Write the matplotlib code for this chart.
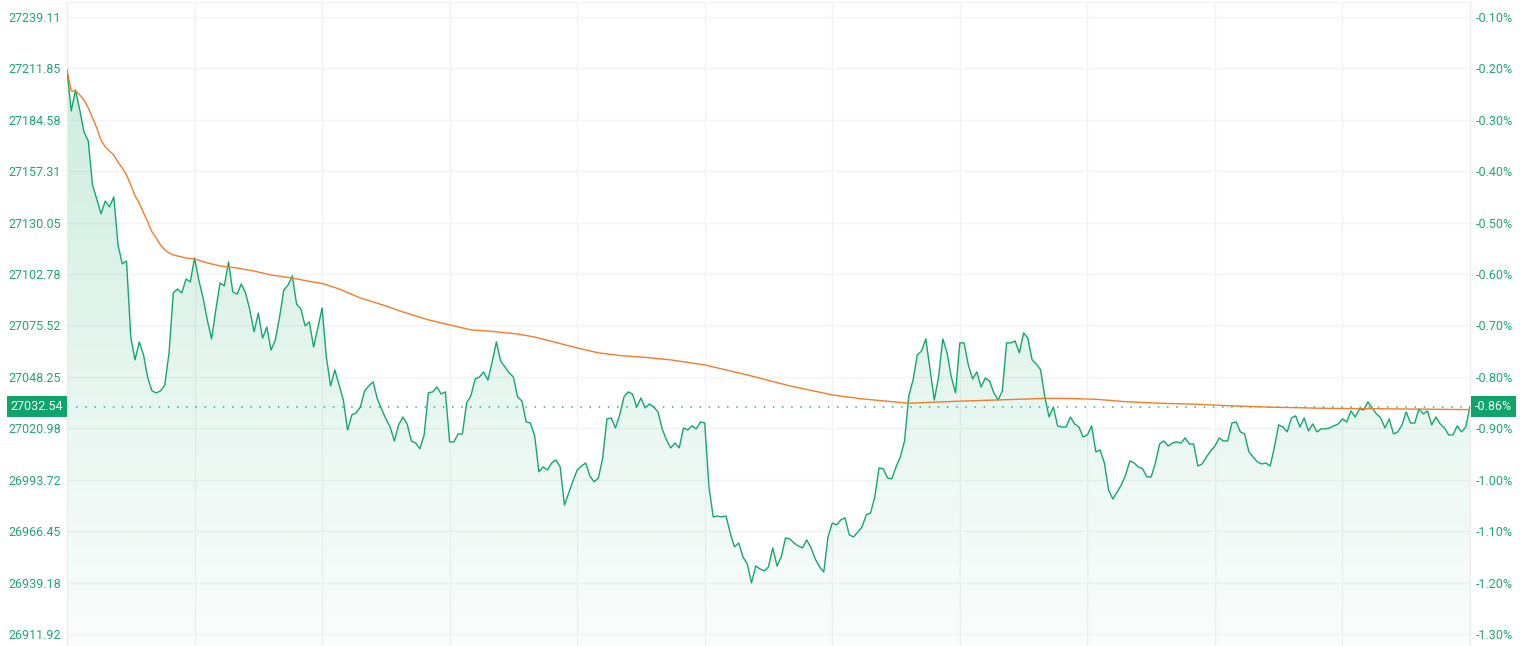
import numpy as np
import matplotlib
matplotlib.use("Agg")
import matplotlib.pyplot as plt
from matplotlib.colors import to_rgb
from matplotlib.patches import Polygon
from matplotlib.transforms import ScaledTranslation

# minute-by-minute index level (09:30 .. 16:00, lunch break collapsed)
price = [
    27211.0, 27189.3, 27200.4, 27189.8, 27178.1, 27173.4, 27150.0, 27142.6, 27134.7, 27141.5,
    27138.4, 27143.7, 27118.2, 27108.2, 27109.7, 27069.4, 27057.3, 27066.8, 27059.9, 27047.7,
    27040.8, 27039.8, 27040.8, 27044.0, 27061.0, 27092.8, 27094.9, 27092.8, 27100.2, 27098.6,
    27111.3, 27099.7, 27090.1, 27078.5, 27068.4, 27083.8, 27098.1, 27096.5, 27109.2, 27093.3,
    27092.2, 27097.5, 27092.8, 27083.8, 27072.2, 27082.1, 27068.8, 27074.7, 27062.5, 27067.8,
    27080.0, 27094.4, 27097.0, 27101.8, 27086.9, 27084.3, 27075.3, 27077.4, 27064.1, 27074.2,
    27084.8, 27058.8, 27043.5, 27052.0, 27044.0, 27036.0, 27020.1, 27028.1, 27029.2, 27032.3,
    27040.8, 27043.5, 27045.6, 27036.6, 27031.3, 27026.0, 27021.7, 27014.3, 27022.8, 27027.0,
    27023.3, 27014.3, 27013.2, 27010.1, 27017.5, 27039.8, 27040.3, 27042.9, 27039.2, 27040.3,
    27013.8, 27013.8, 27018.0, 27018.0, 27034.5, 27038.2, 27047.2, 27048.2, 27050.9, 27046.6,
    27056.2, 27066.8, 27056.7, 27053.5, 27050.4, 27048.2, 27037.6, 27035.5, 27024.4, 27023.8,
    27017.0, 26997.9, 27000.5, 26998.9, 27002.6, 27004.2, 27000.5, 26980.3, 26986.6, 26993.0,
    26998.9, 27001.0, 27002.6, 26995.7, 26992.6, 26994.7, 27005.3, 27026.0, 27026.5, 27021.2,
    27028.1, 27037.6, 27040.3, 27039.2, 27032.3, 27037.1, 27031.8, 27033.9, 27032.3, 27029.7,
    27020.7, 27014.8, 27010.6, 27013.2, 27010.6, 27021.2, 27020.1, 27022.3, 27020.7, 27024.4,
    27023.8, 26989.9, 26974.0, 26974.5, 26974.0, 26974.5, 26965.5, 26958.1, 26960.2, 26952.8,
    26949.1, 26939.0, 26948.0, 26946.4, 26945.4, 26947.5, 26957.6, 26948.0, 26952.8, 26962.9,
    26962.3, 26960.2, 26958.6, 26957.6, 26961.8, 26957.6, 26951.7, 26947.5, 26944.8, 26963.4,
    26970.8, 26969.8, 26972.4, 26973.5, 26964.5, 26963.4, 26966.0, 26968.7, 26975.1, 26976.1,
    26984.6, 27000.0, 26999.5, 26994.7, 26994.2, 27000.5, 27005.8, 27014.3, 27038.2, 27046.6,
    27059.9, 27062.0, 27068.4, 27052.0, 27036.0, 27048.2, 27068.4, 27061.0, 27048.2, 27039.8,
    27066.3, 27066.3, 27054.6, 27047.2, 27050.9, 27042.9, 27047.7, 27046.1, 27039.8, 27036.0,
    27040.8, 27066.3, 27066.3, 27067.3, 27061.0, 27071.6, 27068.8, 27057.3, 27055.1, 27052.0,
    27037.6, 27027.0, 27032.3, 27022.3, 27021.7, 27021.7, 27027.0, 27023.3, 27021.7, 27016.4,
    27017.5, 27022.3, 27008.5, 27009.5, 27002.6, 26988.3, 26983.5, 26987.3, 26991.0, 26996.3,
    27003.7, 27002.6, 27000.5, 26999.5, 26995.2, 26995.2, 27002.6, 27012.7, 27014.3, 27011.6,
    27013.2, 27013.8, 27013.2, 27015.9, 27012.7, 27012.7, 27001.0, 27002.1, 27005.8, 27009.0,
    27011.6, 27015.9, 27014.3, 27014.3, 27023.8, 27024.4, 27019.1, 27018.0, 27008.5, 27005.8,
    27003.2, 27002.1, 27002.6, 27001.0, 27011.1, 27022.8, 27021.7, 27019.1, 27026.5, 27027.6,
    27021.7, 27026.5, 27019.6, 27023.3, 27019.1, 27020.7, 27020.7, 27021.2, 27022.3, 27023.3,
    27026.0, 27024.4, 27030.2, 27027.0, 27031.3, 27030.7, 27035.0, 27031.8, 27028.6, 27026.5,
    27021.2, 27026.0, 27018.0, 27019.1, 27022.8, 27029.7, 27023.8, 27023.8, 27031.3, 27028.6,
    27030.2, 27022.8, 27027.0, 27023.3, 27021.2, 27017.5, 27017.5, 27022.3, 27019.1, 27021.7,
    27032.54,
]

# average price line, read at these minute indices
avg_minute = [0, 1, 2, 3, 4, 5, 6, 7, 8, 9, 10, 11, 12, 13, 14, 15, 16, 17, 18, 19,
              20, 21, 22, 23, 24, 25, 26, 28, 30, 33, 36, 40, 44, 48, 53, 57, 60, 64,
              69, 75, 79, 85, 91, 95, 100, 106, 110, 114, 120, 125, 130, 136, 142, 150,
              160, 170, 180, 187, 198, 210, 224, 230, 236, 242, 249, 257, 265, 273, 283,
              296, 312, 330]
avg_price = [27211.0, 27199.9, 27199.9, 27197.8, 27195.1, 27190.9, 27185.6, 27180.3,
             27173.9, 27170.2, 27168.1, 27165.9, 27162.2, 27159.0, 27155.3, 27150.0,
             27144.2, 27140.5, 27135.2, 27130.4, 27125.1, 27121.9, 27118.2, 27115.6,
             27114.0, 27112.9, 27112.4, 27111.3, 27110.8, 27108.7, 27107.1, 27106.0,
             27104.4, 27102.3, 27100.7, 27098.9, 27097.8, 27094.9, 27090.1, 27085.9,
             27082.7, 27078.5, 27075.3, 27073.2, 27072.4, 27071.0, 27069.4, 27067.1,
             27063.6, 27061.0, 27059.6, 27058.6, 27057.3, 27054.6, 27049.3, 27043.5,
             27038.7, 27036.6, 27034.3, 27035.4, 27036.4, 27036.9, 27036.8, 27036.4,
             27035.1, 27034.3, 27033.8, 27033.0, 27032.2, 27031.6, 27031.3, 27030.9]

last_price = 27032.54
last_label = "27032.54"
last_pct = "-0.86%"

price_ticks = [27239.11, 27211.85, 27184.58, 27157.31, 27130.05, 27102.78, 27075.52,
               27048.25, 27020.98, 26993.72, 26966.45, 26939.18, 26911.92]
price_labels = ["27239.11", "27211.85", "27184.58", "27157.31", "27130.05", "27102.78",
                "27075.52", "27048.25", "27020.98", "26993.72", "26966.45", "26939.18",
                "26911.92"]
pct_labels = ["-0.10%", "-0.20%", "-0.30%", "-0.40%", "-0.50%", "-0.60%", "-0.70%",
              "-0.80%", "-0.90%", "-1.00%", "-1.10%", "-1.20%", "-1.30%"]
time_ticks = [0, 30, 60, 90, 120, 150, 180, 210, 240, 270, 300, 330]

GREEN = "#13a86b"
LABEL = "#22a673"
ORANGE = "#f47c2a"
GRID = "#f2f3f3"

plt.rcParams["font.family"] = ["Roboto", "DejaVu Sans"]

W, H = 1520, 646
fig = plt.figure(figsize=(W / 100, H / 100), dpi=100)
ax = fig.add_axes([67 / W, 0, 1403 / W, 644 / H])

x = np.arange(len(price))
y_lo, y_hi = 26905.56, 27247.06
ax.set_xlim(0, len(price) - 1)
ax.set_ylim(y_lo, y_hi)

# grid
for t in time_ticks:
    ax.axvline(t, color=GRID, lw=1, zorder=0)
for v in price_ticks:
    ax.axhline(v, color=GRID, lw=1, zorder=0)

# gradient fill under the price line
grad = np.zeros((256, 1, 4))
grad[..., :3] = to_rgb(GREEN)
grad[:, 0, 3] = np.linspace(0.23, 0.02, 256)
im = ax.imshow(grad, aspect="auto", extent=[0, len(price) - 1, y_lo, y_hi],
               origin="upper", zorder=1, interpolation="bilinear")
poly = Polygon(np.column_stack([np.r_[x, x[-1], x[0]], np.r_[price, y_lo, y_lo]]),
               closed=True, transform=ax.transData, facecolor="none", edgecolor="none")
ax.add_patch(poly)
im.set_clip_path(poly)

ax.plot(x, price, color=GREEN, lw=1.0, zorder=3)
ax.plot(avg_minute, avg_price, color=ORANGE, lw=1.0, zorder=4)
ax.axhline(last_price, color="#2fb381", lw=1.1, ls=(0, (1, 5)), zorder=2)

# axes styling
for s in ["top", "bottom"]:
    ax.spines[s].set_visible(False)
for s in ["left", "right"]:
    ax.spines[s].set_color("#eeeeee")
    ax.spines[s].set_linewidth(1)
ax.axhline(y_hi, color="#f0f0f0", lw=1.5, zorder=0)
ax.set_xticks([])
ax.set_yticks(price_ticks)
ax.set_yticklabels(price_labels)
ax.tick_params(axis="y", length=0, pad=4.5, labelsize=9, labelcolor=LABEL)

ax2 = ax.twinx()
ax2.set_ylim(y_lo, y_hi)
ax2.set_yticks(price_ticks)
ax2.set_yticklabels(pct_labels)
ax2.tick_params(axis="y", length=0, pad=4, labelsize=9, labelcolor=LABEL)
for s in ax2.spines.values():
    s.set_visible(False)

# last-price badges
off_l = ScaledTranslation(-4 / 100, 0, fig.dpi_scale_trans)
off_r = ScaledTranslation(5 / 100, 0, fig.dpi_scale_trans)
badge = dict(boxstyle="square,pad=0.3", fc="#0fa56a", ec="none")
ax.text(0, last_price, last_label, transform=ax.get_yaxis_transform() + off_l,
        ha="right", va="center", fontsize=9, color="white", bbox=badge, zorder=6,
        clip_on=False)
ax.text(1, last_price, last_pct, transform=ax.get_yaxis_transform() + off_r,
        ha="left", va="center", fontsize=9, color="white", bbox=badge, zorder=6,
        clip_on=False)

fig.savefig("out.png", dpi=100, facecolor="white")
